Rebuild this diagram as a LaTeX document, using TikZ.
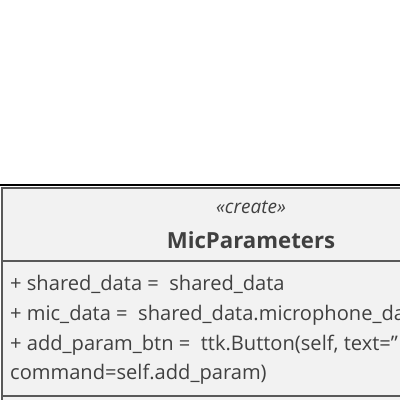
\documentclass[tikz,border=0pt]{standalone}
\usepackage{fontspec}
\setmainfont{Open Sans}
\definecolor{boxfill}{HTML}{F2F2F2}
\definecolor{boxline}{HTML}{595959}
\definecolor{txt}{HTML}{404040}
\definecolor{shade}{HTML}{E4E4E4}
\tikzset{
  classbox/.style={draw=boxline, line width=2pt, fill=boxfill, inner sep=0pt, outer sep=0pt},
  divider/.style={draw=boxline, line width=2pt},
  attr/.style={text=txt, font=\fontsize{20.1}{24}\selectfont, inner sep=0pt, anchor=base west},
  stereo/.style={text=txt, font=\fontsize{19}{22}\selectfont\itshape, inner sep=0pt, anchor=base},
  classtitle/.style={text=txt, font=\fontsize{22.2}{26}\selectfont\bfseries, inner sep=0pt, anchor=base},
}
\begin{document}
\begin{tikzpicture}[x=1pt,y=-1pt]
\useasboundingbox (0,0) rectangle (400,400);
\clip (0,0) rectangle (400,400);
\fill[white] (0,0) rectangle (400,400);
\node[classbox, minimum width=500pt, minimum height=240pt, anchor=north west] (cls) at (2,187.5) {};
\coordinate (shL) at (0,185);
\coordinate (shR) at (400,185);
\draw[shade, line width=1.5pt] (shL) -- (shR);
\coordinate (d1) at (2,261);
\coordinate (d2) at (2,396);
\draw[divider] (d1) -- (d1 -| cls.east);
\draw[divider] (d2) -- (d2 -| cls.east);
\node[stereo] (st) at (251,213) {«create»};
\node[classtitle] (ti) at (251,248) {MicParameters};
\node[attr] (a1) at (10,290) {+ shared\_data =\ \ shared\_data};
\node[attr] (a2) at (10,320) {+ mic\_data =\ \ shared\_data.microphone\_data};
\node[attr] (a3) at (10,350) {+ add\_param\_btn =\ \ ttk.Button(self, text={\char"22}};
\node[attr] (a4) at (10,379) {command=self.add\_param)};
\end{tikzpicture}
\end{document}
